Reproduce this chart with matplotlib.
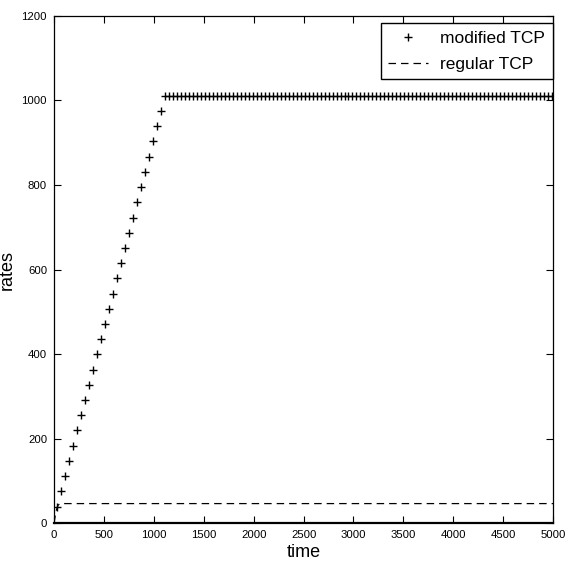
import matplotlib
matplotlib.use("Agg")
import matplotlib.pyplot as plt

# modified TCP: rising ramp then flat at the cap
modified_time = [30, 70, 110, 150, 190, 230, 270, 310, 350, 390, 430, 470, 510, 550,
                 590, 630, 670, 710, 750, 790, 830, 870, 910, 950, 990, 1030, 1070,
                 1110, 1150, 1190, 1230, 1270, 1310, 1350, 1390, 1430, 1470, 1510, 1550,
                 1590, 1630, 1670, 1710, 1750, 1790, 1830, 1870, 1910, 1950, 1990, 2030,
                 2070, 2110, 2150, 2190, 2230, 2270, 2310, 2350, 2390, 2430, 2470, 2510,
                 2550, 2590, 2630, 2670, 2710, 2750, 2790, 2830, 2870, 2910, 2950, 2990,
                 3030, 3070, 3110, 3150, 3190, 3230, 3270, 3310, 3350, 3390, 3430, 3470,
                 3510, 3550, 3590, 3630, 3670, 3710, 3750, 3790, 3830, 3870, 3910, 3950,
                 3990, 4030, 4070, 4110, 4150, 4190, 4230, 4270, 4310, 4350, 4390, 4430,
                 4470, 4510, 4550, 4590, 4630, 4670, 4710, 4750, 4790, 4830, 4870, 4910,
                 4950, 4990]
modified_rate = [39, 75, 111, 147, 183, 219, 255, 291, 327, 363, 399, 435, 471, 507,
                 543, 579, 615, 651, 687, 723, 759, 795, 831, 867, 903, 939, 975] + [1010] * 98

# regular TCP
regular_time = [0, 20, 40, 60, 5000]
regular_rate = [0, 28, 42, 46, 46]

x_ticks = [0, 500, 1000, 1500, 2000, 2500, 3000, 3500, 4000, 4500, 5000]
y_ticks = [0, 200, 400, 600, 800, 1000, 1200]

plt.rcParams["font.family"] = ["Liberation Sans", "DejaVu Sans"]

fig = plt.figure(figsize=(5.65, 5.65), dpi=100)
ax = fig.add_axes([0.0956, 0.0743, 0.8834, 0.8974])

ax.plot(modified_time, modified_rate, linestyle="none", marker="+", color="black",
        markersize=5.5, markeredgewidth=1.0, label="modified TCP")
ax.plot(regular_time, regular_rate, linestyle=(0, (6, 4)), color="black",
        linewidth=0.9, label="regular TCP")

ax.set_xlim(0, 5000)
ax.set_ylim(0, 1200)
ax.set_xticks(x_ticks)
ax.set_yticks(y_ticks)
ax.tick_params(direction="in", top=True, right=True, length=5, width=0.8,
               labelsize=8.2, pad=5)
for side in ["top", "right", "left"]:
    ax.spines[side].set_linewidth(0.9)
ax.spines["bottom"].set_linewidth(1.6)

ax.set_xlabel("time", fontsize=13, labelpad=3)
ax.set_ylabel("rates", fontsize=13, labelpad=4)

leg = ax.legend(loc="upper right", fontsize=12.5, fancybox=False, framealpha=1,
                edgecolor="black", handlelength=2.3, borderaxespad=0.0,
                bbox_to_anchor=(1.0, 0.986), borderpad=0.45, labelspacing=0.6,
                handletextpad=0.7)
leg.get_frame().set_linewidth(1.0)

fig.savefig("out.png", dpi=100)
